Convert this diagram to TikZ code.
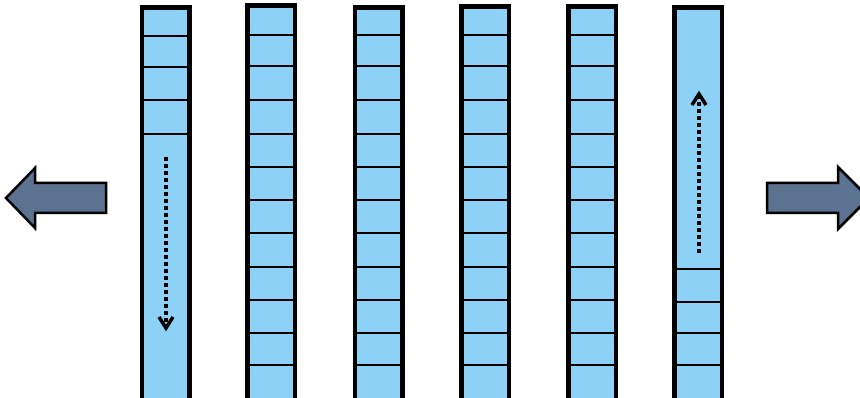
\documentclass[tikz,border=0pt]{standalone}
\usetikzlibrary{arrows.meta}
\definecolor{cellblue}{HTML}{8DD1F6}
\definecolor{slate}{HTML}{5B7291}
\tikzset{
  colbox/.style={draw=black, fill=cellblue, line width=3pt, inner sep=0pt, minimum width=46pt, anchor=north, rectangle},
  divider/.style={draw=black, line width=2pt},
  bigarrow/.style={draw=black, fill=slate, line width=2.5pt, line join=miter},
  flowline/.style={draw=black, line width=4pt, dash pattern=on 4pt off 3pt},
  flowtip/.style={draw=black, line width=3.5pt, line join=miter, line cap=butt}
}
\begin{document}
\begin{tikzpicture}[x=1pt,y=-1pt]
\useasboundingbox (0,0) rectangle (860,398);
% columns
\node[colbox, minimum height=394pt] (c1) at (165.5,7) {};
\node[colbox, minimum height=396pt] (c2) at (271,5) {};
\node[colbox, minimum height=394pt] (c3) at (378.5,7) {};
\node[colbox, minimum height=395pt] (c4) at (485,6) {};
\node[colbox, minimum height=395pt] (c5) at (592,6) {};
\node[colbox, minimum height=394pt] (c6) at (698,7) {};
% dividers
\foreach \y in {36,67,100,134}
  \draw[divider] (c1.west |- 0,\y) -- (c1.east |- 0,\y);
\foreach \c in {c2,c3,c4,c5}
  \foreach \y in {35,66,100,134,167,200,233,267,300,333,365}
    \draw[divider] (\c.west |- 0,\y) -- (\c.east |- 0,\y);
\foreach \y in {269,302,333,365}
  \draw[divider] (c6.west |- 0,\y) -- (c6.east |- 0,\y);
% redraw column outlines on top
\foreach \c in {c1,c2,c3,c4,c5,c6}
  \draw[line width=3pt] (\c.south west) rectangle (\c.north east);
% flow arrows
\coordinate (a1s) at (166,157);
\coordinate (a1e) at (166,328);
\coordinate (a6s) at (699,253);
\coordinate (a6e) at (699,94);
\draw[flowline] (a1s) -- (a1e);
\draw[flowtip] ([xshift=-7pt,yshift=11pt]a1e) -- (a1e) -- ([xshift=7pt,yshift=11pt]a1e);
\draw[flowline] (a6s) -- (a6e);
\draw[flowtip] ([xshift=-7pt,yshift=-11pt]a6e) -- (a6e) -- ([xshift=7pt,yshift=-11pt]a6e);
% big side arrows
\draw[bigarrow] (6,198) -- (35,168) -- (35,183) -- (106,183) -- (106,213) -- (35,213) -- (35,228) -- cycle;
\draw[bigarrow] (767,183) -- (838,183) -- (838,167) -- (869,198) -- (838,229) -- (838,213) -- (767,213) -- cycle;
\end{tikzpicture}
\end{document}
